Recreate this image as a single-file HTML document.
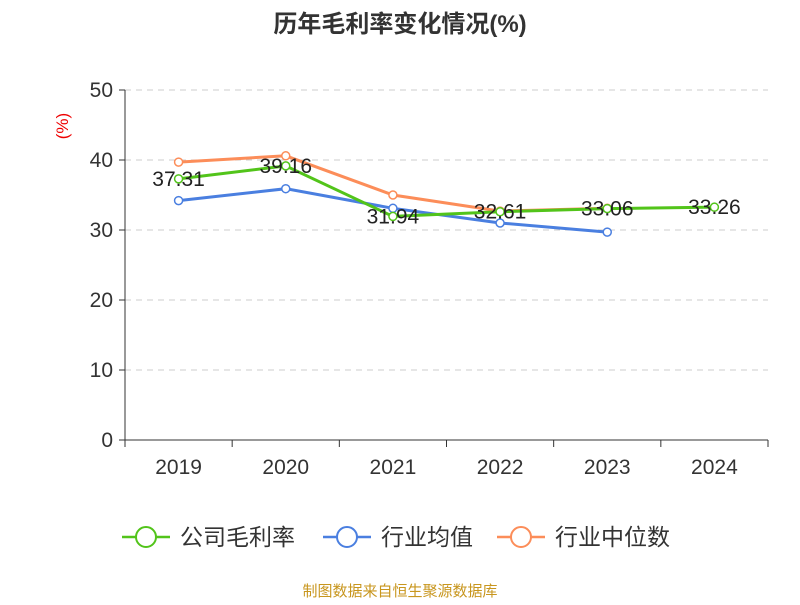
<!DOCTYPE html>
<html><head><meta charset="utf-8">
<style>
body{margin:0;width:800px;height:600px;background:#fff;font-family:"Liberation Sans","Noto Sans CJK SC",sans-serif;}
svg text{font-family:"Liberation Sans","Noto Sans CJK SC",sans-serif;}
</style></head>
<body>
<svg id="chart" width="800" height="600">
<text x="400" y="32" text-anchor="middle" font-size="24" font-weight="bold" fill="#333">历年毛利率变化情况(%)</text>
<text x="68" y="126" font-size="17" fill="#e00" transform="rotate(-90 68 126)" text-anchor="middle">(%)</text>
<g id="grid"></g><g id="axes"></g><g id="series"></g>
<g id="legend"></g>
<text x="400" y="596" text-anchor="middle" font-size="15" fill="#c8961e">制图数据来自恒生聚源数据库</text>
</svg>
<script>
const categories=["2019","2020","2021","2022","2023","2024"];
const yTicks=[0,10,20,30,40,50];
const company=[37.31,39.16,31.94,32.61,33.06,33.26];
const industryAvg=[34.2,35.9,33.1,31.0,29.7];
const industryMedian=[39.7,40.6,35.0,32.7,33.1];
const companyLabels=["37.31","39.16","31.94","32.61","33.06","33.26"];
const NS="http://www.w3.org/2000/svg";
const X0=125,X1=768,Y0=440,Y1=90;
const band=(X1-X0)/categories.length;
const xs=i=>X0+band*(i+0.5);
const ys=v=>Y0-(v/50)*(Y0-Y1);
function mk(t,a,p){const e=document.createElementNS(NS,t);for(const k in a)e.setAttribute(k,a[k]);p.appendChild(e);return e;}
const grid=document.getElementById('grid'),axes=document.getElementById('axes'),ser=document.getElementById('series'),leg=document.getElementById('legend');
yTicks.forEach(t=>{const y=ys(t);
 if(t>0){const g=mk('line',{x1:X0,x2:X1,y1:y,y2:y,stroke:'#ccc','stroke-dasharray':'6,5'},grid);
 
 }
 const tk=mk('line',{x1:X0-6,x2:X0,y1:y,y2:y,stroke:'#333'},axes);
 
 
 const l=mk('text',{x:X0-12,y:y+7,'text-anchor':'end','font-size':21,fill:'#333'},axes);l.textContent=t;
 
 
});
const ya=mk('line',{x1:X0,x2:X0,y1:Y1,y2:Y0,stroke:'#333'},axes);


const xa=mk('line',{x1:X0,x2:X1,y1:Y0,y2:Y0,stroke:'#333'},axes);


for(let i=0;i<=categories.length;i++){const x=X0+band*i;const t=mk('line',{x1:x,x2:x,y1:Y0,y2:Y0+7,stroke:'#333'},axes);
 
 }
categories.forEach((c,i)=>{const l=mk('text',{x:xs(i),y:Y0+34,'text-anchor':'middle','font-size':21,fill:'#333'},axes);l.textContent=c;
 
 });
function series(vals,color,name){
 const g=mk('g',{},ser);
 
 
 const pl=mk('polyline',{points:vals.map((v,i)=>xs(i)+','+ys(v)).join(' '),fill:'none',stroke:color,'stroke-width':3},g);
 
 
 vals.forEach((v,i)=>{const c=mk('circle',{cx:xs(i),cy:ys(v),r:4,fill:'#fff',stroke:color,'stroke-width':1.5},g);
  
  });
}
series(industryMedian,'#fc8d59','industry-median');
series(industryAvg,'#4a7fe0','industry-average');
series(company,'#52c41a','company');
company.forEach((v,i)=>{const t=mk('text',{x:xs(i),y:ys(v)+7,'text-anchor':'middle','font-size':21,fill:'#222'},ser);t.textContent=companyLabels[i];
 
 });
const items=[["公司毛利率",'#52c41a',122],["行业均值",'#4a7fe0',323],["行业中位数",'#fc8d59',497]];
items.forEach(([n,c,x])=>{const g=mk('g',{},leg);
 
 
 mk('line',{x1:x,x2:x+48,y1:537,y2:537,stroke:c,'stroke-width':2.5},g);
 mk('circle',{cx:x+24,cy:537,r:10,fill:'#fff',stroke:c,'stroke-width':2},g);
 const t=mk('text',{x:x+58,y:545,'font-size':23,fill:'#333'},g);t.textContent=n;});
</script>
</body></html>
